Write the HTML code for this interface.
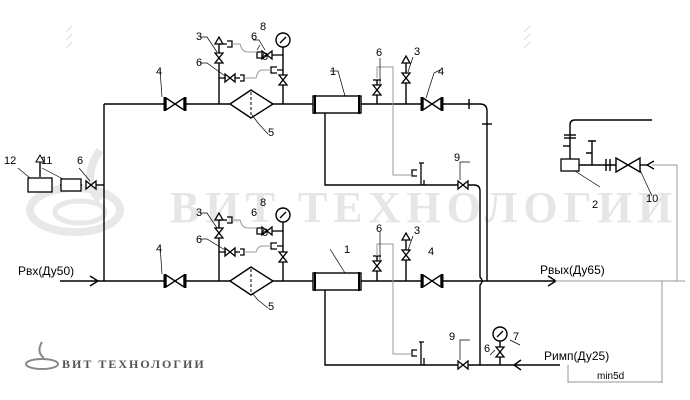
<!DOCTYPE html>
<html><head><meta charset="utf-8"><style>body{margin:0;background:#fff}svg{display:block}</style></head><body>
<svg width="690" height="400" viewBox="0 0 690 400" xmlns="http://www.w3.org/2000/svg" font-family="Liberation Sans, sans-serif" font-size="11">
<defs>
<g id="valveH"><path d="M-9,-6 L9,6 L9,-6 L-9,6 Z" fill="#fff" stroke="#000" stroke-width="1.4"/><line x1="-10.5" y1="-7" x2="-10.5" y2="7" stroke="#000" stroke-width="2"/><line x1="10.5" y1="-7" x2="10.5" y2="7" stroke="#000" stroke-width="2"/></g>
<g id="sv"><path d="M-5,-4 L5,4 L5,-4 L-5,4 Z" fill="#fff" stroke="#000" stroke-width="1.3"/></g>
<g id="svV"><path d="M-4,-5 L4,5 L-4,5 L4,-5 Z" fill="#fff" stroke="#000" stroke-width="1.3"/></g>
</defs>
<!-- watermark -->
<text x="170" y="222" font-family="Liberation Serif, serif" font-size="44" font-weight="bold" fill="#e6e6e6" letter-spacing="6">ВИТ ТЕХНОЛОГИИ</text>
<ellipse cx="75" cy="210" rx="45" ry="22" fill="none" stroke="#e8e8e8" stroke-width="8"/>
<ellipse cx="80" cy="212" rx="25" ry="11" fill="none" stroke="#e8e8e8" stroke-width="5"/>
<path d="M100,150 Q80,180 100,200" fill="none" stroke="#e8e8e8" stroke-width="8"/>
<g fill="none" stroke="#000" stroke-width="1.4">
<line x1="60" y1="281" x2="555" y2="281"/>
<path d="M548,276 L556,281 L548,286"/>
<path d="M90,276 L98,281 L90,286"/>
<line x1="104" y1="104" x2="104" y2="281"/>
<path d="M104,104 L480,104 Q487,104 487,111 L487,281"/>
<line x1="469" y1="99" x2="469" y2="109"/><line x1="482" y1="124" x2="492" y2="124"/>
<path d="M325,113 L325,185 L474,185 Q480,185 480,191 L480,277 Q484,281 480,285 L480,365"/>
<path d="M325,290 L325,365 L560,365"/>
<path d="M521,360 L514,365 L521,370"/>
<line x1="219" y1="104" x2="219" y2="44"/><line x1="283" y1="104" x2="283" y2="47"/>
<line x1="377" y1="104" x2="377" y2="80"/><line x1="406" y1="104" x2="406" y2="63"/>
<line x1="219" y1="281" x2="219" y2="220"/><line x1="283" y1="281" x2="283" y2="222"/>
<line x1="377" y1="281" x2="377" y2="256"/><line x1="406" y1="281" x2="406" y2="240"/>
<line x1="500" y1="365" x2="500" y2="340"/>
<line x1="92" y1="185" x2="104" y2="185"/><line x1="82" y1="185" x2="60" y2="185"/>
<line x1="40" y1="177" x2="40" y2="162"/>
</g>
<rect x="28" y="178" width="24" height="14" fill="#fff" stroke="#000" stroke-width="1.3"/>
<rect x="61" y="179" width="20" height="12" fill="#fff" stroke="#000" stroke-width="1.3"/>
<path d="M36,162 L44,162 L40,155 Z" fill="#fff" stroke="#000"/>
<use href="#sv" x="91" y="185"/>
<use href="#valveH" x="175" y="104"/><use href="#valveH" x="432" y="104"/>
<use href="#valveH" x="175" y="281"/><use href="#valveH" x="432" y="281"/>
<g stroke="#000" stroke-width="1.4" fill="#fff">
<path d="M230,104 L251,90 L273,104 L251,118 Z"/><path d="M230,281 L251,267 L273,281 L251,295 Z"/>
<rect x="313" y="96" width="48" height="17"/><rect x="313" y="273" width="48" height="17"/>
<circle cx="283" cy="40" r="7"/><circle cx="283" cy="215" r="7"/><circle cx="500" cy="334" r="7"/>
</g>
<g stroke="#000" stroke-width="1" stroke-dasharray="3,2"><line x1="251" y1="92" x2="251" y2="116"/><line x1="251" y1="269" x2="251" y2="293"/></g>
<g stroke="#000" stroke-width="2"><line x1="315" y1="95" x2="315" y2="114"/><line x1="359" y1="95" x2="359" y2="114"/><line x1="315" y1="272" x2="315" y2="291"/><line x1="359" y1="272" x2="359" y2="291"/></g>
<g stroke="#000" stroke-width="1.3"><line x1="280" y1="43" x2="286" y2="37"/><line x1="280" y1="218" x2="286" y2="212"/><line x1="497" y1="337" x2="503" y2="331"/></g>
<use href="#svV" x="219" y="58"/><use href="#svV" x="283" y="80"/><use href="#svV" x="377" y="90"/><use href="#svV" x="406" y="78"/>
<use href="#svV" x="219" y="233"/><use href="#svV" x="283" y="257"/><use href="#svV" x="377" y="266"/><use href="#svV" x="406" y="255"/>
<use href="#svV" x="500" y="352"/>
<use href="#sv" x="267" y="55"/><use href="#sv" x="230" y="78"/><use href="#sv" x="267" y="231"/><use href="#sv" x="230" y="252"/>
<use href="#sv" x="463" y="185"/><use href="#sv" x="463" y="365"/>
<g fill="none" stroke="#000" stroke-width="1.3">
<line x1="272" y1="55" x2="283" y2="55"/><line x1="219" y1="78" x2="226" y2="78"/><line x1="235" y1="78" x2="240" y2="78"/>
<line x1="272" y1="231" x2="283" y2="231"/><line x1="219" y1="252" x2="226" y2="252"/><line x1="235" y1="252" x2="240" y2="252"/>
<path d="M215,44 L223,44 L219,37 Z" fill="#fff"/><path d="M402,63 L410,63 L406,56 Z" fill="#fff"/>
<path d="M215,220 L223,220 L219,213 Z" fill="#fff"/><path d="M402,240 L410,240 L406,233 Z" fill="#fff"/>
<path d="M219,44 L227,44 M227,41 L232,41 L232,47 L227,47"/><path d="M262,52 L257,52 L257,58 L262,58"/><path d="M283,70 L277,70 M277,67 L271,67 L271,73 L277,73"/><path d="M240,75 L244,75 L244,81 L240,81"/>
<path d="M219,220 L227,220 M227,217 L232,217 L232,223 L227,223"/><path d="M262,228 L257,228 L257,234 L262,234"/><path d="M283,246 L277,246 M277,243 L271,243 L271,249 L277,249"/><path d="M240,249 L244,249 L244,255 L240,255"/>
<path d="M373,80 L381,80"/><path d="M373,256 L381,256"/>
<path d="M419,163 L424,163 M421,163 L421,185 M417,170 L412,170 L412,176 L417,176 M424,180 L424,185"/>
<path d="M419,342 L424,342 M421,342 L421,365 M417,350 L412,350 L412,356 L417,356 M424,358 L424,365"/>
</g>
<g fill="none" stroke="#999" stroke-width="1">
<path d="M232,44 L240,44 Q242,52 248,52 L257,52"/><path d="M244,78 L256,78 Q258,70 262,70 L271,70"/>
<path d="M232,220 L240,220 Q242,228 248,228 L257,228"/><path d="M244,252 L256,252 Q258,246 262,246 L271,246"/>
<path d="M377,78 L377,67 L393,67 L393,175 L412,175"/>
<path d="M377,256 L377,244 L393,244 L393,354 L412,354"/>
<path d="M555,281 L685,281"/><path d="M677,281 L677,165 L652,165"/>
<path d="M662,281 L662,383 M568,365 L568,383 M568,382 L662,382"/>
</g>
<path d="M654,161 L647,165 L654,169" fill="none" stroke="#000" stroke-width="1.3"/>
<g fill="none" stroke="#000" stroke-width="1.4">
<path d="M570,159 L570,125 Q570,120 575,120 L652,120"/>
<line x1="564" y1="135" x2="576" y2="135"/><line x1="564" y1="138" x2="576" y2="138"/>
<path d="M570,146 L563,146"/>
<line x1="579" y1="165" x2="617" y2="165"/><line x1="592" y1="165" x2="592" y2="141"/><path d="M588,141 L596,141 M592,153 L586,153"/>
<line x1="606" y1="159" x2="606" y2="171"/><line x1="610" y1="159" x2="610" y2="171"/>
<path d="M616,158 L640,172 L640,158 L616,172 Z" fill="#fff"/><line x1="640" y1="165" x2="647" y2="165"/>
</g>
<rect x="561" y="159" width="18" height="12" fill="#fff" stroke="#000" stroke-width="1.3"/>
<g fill="none" stroke="#000" stroke-width="0.7">
<path d="M200,37 L207,37 L217,52"/><path d="M200,63 L207,63 L225,76"/><path d="M253,40 L259,40 L265,50"/><path d="M260,45 L257,50"/>
<path d="M268,134 L258,123 L252,115"/><path d="M330,71 L338,71 L345,96"/><path d="M380,58 L380,86"/><path d="M413,57 L408,72"/><path d="M440,70 L434,73 L426,98"/>
<path d="M470,162 L460,162 L460,180"/>
<path d="M200,213 L207,213 L217,228"/><path d="M200,239 L207,239 L225,250"/><path d="M268,308 L258,300 L252,293"/>
<path d="M330,249 L345,273"/><path d="M380,232 L380,262"/><path d="M413,236 L408,250"/><path d="M160,245 L162,274"/>
<path d="M160,70 L162,97"/><path d="M470,340 L460,340 L460,360"/><path d="M520,345 L510,340"/><path d="M490,355 L495,350"/>
<path d="M600,187 L575,171"/><path d="M652,196 L640,170"/>
<path d="M18,168 L30,178"/><path d="M42,168 L63,179"/><path d="M79,168 L90,181"/>
</g>
<g font-size="11" fill="#000">
<text x="196" y="40">3</text><text x="196" y="66">6</text><text x="260" y="30">8</text><text x="251" y="40">6</text><text x="262" y="60">6</text>
<text x="268" y="136">5</text><text x="330" y="75">1</text><text x="376" y="56">6</text><text x="414" y="55">3</text><text x="438" y="75">4</text><text x="156" y="75">4</text>
<text x="454" y="161">9</text>
<text x="196" y="216">3</text><text x="196" y="243">6</text><text x="260" y="206">8</text><text x="251" y="216">6</text><text x="262" y="236">6</text>
<text x="268" y="310">5</text><text x="344" y="253">1</text><text x="376" y="232">6</text><text x="414" y="234">3</text><text x="428" y="255">4</text><text x="156" y="252">4</text>
<text x="449" y="340">9</text><text x="513" y="340">7</text><text x="484" y="352">6</text>
<text x="592" y="208">2</text><text x="646" y="202">10</text>
<text x="4" y="164">12</text><text x="41" y="164">11</text><text x="77" y="164">6</text>
<text x="18" y="275" font-size="12">Рвх(Ду50)</text>
<text x="540" y="274" font-size="12">Рвых(Ду65)</text>
<text x="544" y="360" font-size="12">Римп(Ду25)</text>
<text x="597" y="379" font-size="10">min5d</text>
</g>
<ellipse cx="42" cy="364" rx="16" ry="5" fill="none" stroke="#888" stroke-width="2"/>
<path d="M42,342 Q36,352 44,358" fill="none" stroke="#888" stroke-width="2"/>
<text x="62" y="368" font-family="Liberation Serif, serif" font-size="12" font-weight="bold" fill="#555" letter-spacing="2">ВИТ ТЕХНОЛОГИИ</text>
<g stroke="#ddd" stroke-width="1"><path d="M66,32 L72,26 M66,40 L72,34 M66,48 L72,42 M524,32 L530,26 M524,40 L530,34 M524,48 L530,42"/></g>
</svg>
</body></html>
